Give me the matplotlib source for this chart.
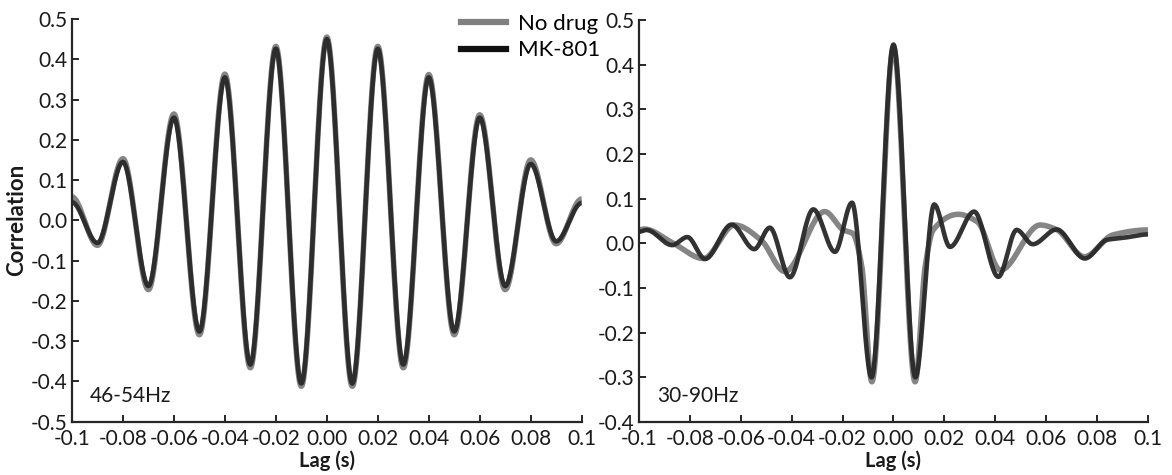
import numpy as np
import matplotlib
matplotlib.use("Agg")
import matplotlib.pyplot as plt
from matplotlib.lines import Line2D

plt.rcParams['font.family'] = ['Lato', 'DejaVu Sans']

# ---------------- data ----------------
# Left panel (46-54 Hz): values at the extrema, every 10 ms
t_left = [-0.10, -0.09, -0.08, -0.07, -0.06, -0.05, -0.04, -0.03, -0.02, -0.01, 0.00,
          0.01, 0.02, 0.03, 0.04, 0.05, 0.06, 0.07, 0.08, 0.09, 0.10]
mk_left = [0.045, -0.056, 0.145, -0.163, 0.255, -0.276, 0.355, -0.358, 0.426, -0.405, 0.450,
           -0.405, 0.426, -0.358, 0.355, -0.276, 0.255, -0.163, 0.140, -0.052, 0.043]
nd_left = [0.058, -0.062, 0.153, -0.172, 0.264, -0.284, 0.363, -0.366, 0.432, -0.412, 0.455,
           -0.412, 0.432, -0.366, 0.362, -0.284, 0.262, -0.172, 0.150, -0.058, 0.053]

# Right panel (30-90 Hz): values at the turning points
t_mk_right = [-0.100, -0.097, -0.087, -0.081, -0.074, -0.0636, -0.0547, -0.0486, -0.0407,
              -0.0315, -0.023, -0.0163, -0.0086, 0.000, 0.0086, 0.0160, 0.0222, 0.0317,
              0.0412, 0.0484, 0.0547, 0.0641, 0.0752, 0.0840, 0.090, 0.100]
mk_right = [0.026, 0.030, -0.004, 0.014, -0.035, 0.042, -0.013, 0.035, -0.076,
            0.076, -0.019, 0.091, -0.300, 0.445, -0.300, 0.087, -0.008, 0.071,
            -0.075, 0.030, -0.002, 0.031, -0.034, 0.008, 0.012, 0.020]

t_nd_right = [-0.100, -0.098, -0.0865, -0.0747, -0.0624, -0.052, -0.0427, -0.027, -0.0197,
              -0.016, -0.0125, -0.0085, 0.000, 0.0085, 0.0125, 0.0156, 0.0255, 0.033,
              0.042, 0.0576, 0.064, 0.075, 0.0863, 0.100]
nd_right = [0.030, 0.032, 0.000, -0.034, 0.041, 0.007, -0.063, 0.071, 0.030,
            0.022, -0.050, -0.310, 0.440, -0.310, -0.050, 0.030, 0.065, 0.048,
            -0.060, 0.041, 0.031, -0.030, 0.019, 0.030]

xtick_vals = [-0.1, -0.08, -0.06, -0.04, -0.02, 0.0, 0.02, 0.04, 0.06, 0.08, 0.1]
xtick_labels = ['-0.1', '-0.08', '-0.06', '-0.04', '-0.02', '0.00', '0.02', '0.04', '0.06', '0.08', '0.1']
ytick_left = [0.5, 0.4, 0.3, 0.2, 0.1, 0.0, -0.1, -0.2, -0.3, -0.4, -0.5]
ytick_right = [0.5, 0.4, 0.3, 0.2, 0.1, 0.0, -0.1, -0.2, -0.3, -0.4]
series_names = ['No drug', 'MK-801']
panel_labels = ['46-54Hz', '30-90Hz']


def smooth(x, y, n=1500):
    """Shape-preserving cubic (PCHIP) curve through the read points, for drawing."""
    x = np.asarray(x, float)
    y = np.asarray(y, float)
    h = np.diff(x)
    d = np.diff(y) / h
    m = np.zeros_like(y)
    for k in range(1, len(x) - 1):
        if d[k - 1] * d[k] > 0:
            w1 = 2 * h[k] + h[k - 1]
            w2 = h[k] + 2 * h[k - 1]
            m[k] = (w1 + w2) / (w1 / d[k - 1] + w2 / d[k])
    xn = np.linspace(x[0], x[-1], n)
    idx = np.clip(np.searchsorted(x, xn) - 1, 0, len(x) - 2)
    hk = h[idx]
    s = (xn - x[idx]) / hk
    h00 = 2 * s**3 - 3 * s**2 + 1
    h10 = s**3 - 2 * s**2 + s
    h01 = -2 * s**3 + 3 * s**2
    h11 = s**3 - s**2
    yn = h00 * y[idx] + h10 * hk * m[idx] + h01 * y[idx + 1] + h11 * hk * m[idx + 1]
    return xn, yn


fig = plt.figure(figsize=(11.72, 4.75), dpi=100)
ax1 = fig.add_axes([0.0614, 0.1122, 0.4349, 0.8478])
ax2 = fig.add_axes([0.5452, 0.1116, 0.4343, 0.8463])

gray = '#858585'
dark = '#282828'
spine_c = '#262626'
txt_c = '#1a1a1a'

for ax, (tn, vn), (tm, vm), ylim, yt, lab in [
        (ax1, (t_left, nd_left), (t_left, mk_left), (-0.5, 0.5), ytick_left, panel_labels[0]),
        (ax2, (t_nd_right, nd_right), (t_mk_right, mk_right), (-0.4, 0.5), ytick_right, panel_labels[1])]:
    xs, ys = smooth(tn, vn)
    ax.plot(xs, ys, color=gray, lw=4.0, solid_capstyle='butt', solid_joinstyle='round', zorder=2)
    xs, ys = smooth(tm, vm)
    ax.plot(xs, ys, color=dark, lw=3.3, alpha=0.95, solid_capstyle='butt', solid_joinstyle='round', zorder=3)
    ax.set_xlim(-0.1, 0.1)
    ax.set_ylim(*ylim)
    ax.set_xticks(xtick_vals)
    ax.set_xticklabels(xtick_labels)
    ax.set_yticks(yt)
    ax.set_yticklabels(['%.1f' % v for v in yt])
    for s in ['top', 'right']:
        ax.spines[s].set_visible(False)
    for s in ['left', 'bottom']:
        ax.spines[s].set_linewidth(1.6)
        ax.spines[s].set_color(spine_c)
    ax.tick_params(direction='in', length=5, width=1.4, color=spine_c,
                   labelsize=15, labelcolor=txt_c)
    ax.tick_params(axis='x', pad=5)
    ax.tick_params(axis='y', pad=3)
    ax.set_xlabel('Lag (s)', fontsize=14.5, fontweight='bold', labelpad=1, color=txt_c)
    ax.text(0.035, 0.065, lab, transform=ax.transAxes, fontsize=15, color=txt_c,
            ha='left', va='center')

ax1.set_ylabel('Correlation', fontsize=16, fontweight='bold', labelpad=3, color=txt_c)

handles = [Line2D([], [], color='#808080', lw=4.5), Line2D([], [], color='#111111', lw=4.5)]
fig.legend(handles, series_names, loc='upper left', bbox_to_anchor=(0.386, 0.99),
           frameon=False, handlelength=2.0, handletextpad=0.55,
           labelspacing=0.3, borderaxespad=0.0, prop={'size': 16})

fig.savefig('out.png', dpi=100)
